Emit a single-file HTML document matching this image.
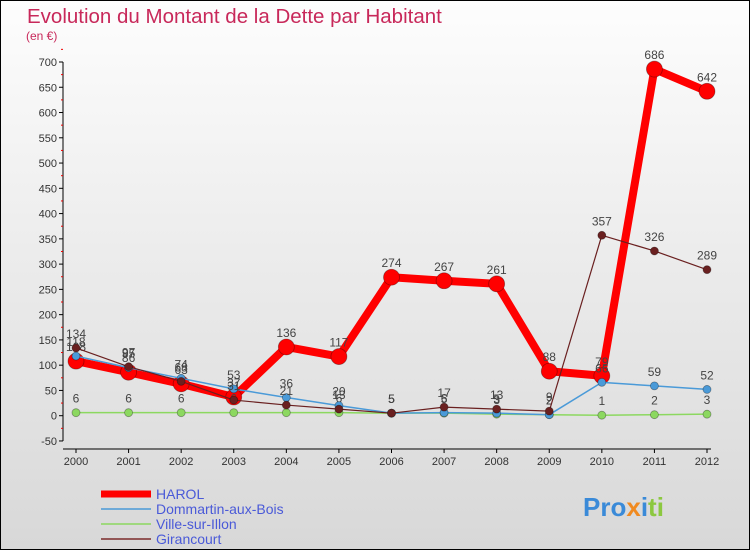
<!DOCTYPE html>
<html><head><meta charset="utf-8"><style>
body{margin:0}
#c{width:750px;height:550px;position:relative;box-sizing:border-box;border:1px solid #000;background:linear-gradient(#fdfdfd,#d8d8d8);font-family:"Liberation Sans",sans-serif;overflow:hidden}
</style></head><body>
<div id="c">
<svg id="s" width="748" height="548" xmlns="http://www.w3.org/2000/svg">
<text x="26" y="22" font-size="20.5" fill="#c8285a">Evolution du Montant de la Dette par Habitant</text>
<text x="25" y="39" font-size="12" fill="#c8285a">(en €)</text>
<g id="axes"></g><g id="series"></g>
<g>
<line x1="100" y1="493" x2="150" y2="493" stroke="#f00" stroke-width="7"/><text x="155" y="498" font-size="14" fill="#4a5ad8">HAROL</text>
<line x1="100" y1="508" x2="150" y2="508" stroke="#4a9ad8" stroke-width="1.5"/><text x="155" y="513" font-size="14" fill="#4a5ad8">Dommartin-aux-Bois</text>
<line x1="100" y1="523" x2="150" y2="523" stroke="#8cd860" stroke-width="1.5"/><text x="155" y="528" font-size="14" fill="#4a5ad8">Ville-sur-Illon</text>
<line x1="100" y1="538" x2="150" y2="538" stroke="#7a2a2a" stroke-width="1.5"/><text x="155" y="543" font-size="14" fill="#4a5ad8">Girancourt</text>
</g>
<text x="582" y="515" font-size="26" font-weight="bold"><tspan fill="#3a8ad8">Pro</tspan><tspan fill="#f08a20">x</tspan><tspan fill="#3a8ad8">i</tspan><tspan fill="#8cc840">ti</tspan></text>
</svg></div>
<script>
const years=[2000,2001,2002,2003,2004,2005,2006,2007,2008,2009,2010,2011,2012];
const harol=[108,86,63,37,136,117,274,267,261,88,79,686,642];
const dommartin=[118,95,74,53,36,20,5,6,5,2,66,59,52];
const ville=[6,6,6,6,6,6,5,5,3,2,1,2,3];
const girancourt=[134,97,68,31,21,13,5,17,13,9,357,326,289];
const yTicks=[-50,0,50,100,150,200,250,300,350,400,450,500,550,600,650,700];
const NS="http://www.w3.org/2000/svg";
const xs=i=>75+i*(631/12);
const ys=v=>414.7-v*0.5053;
function mk(t,a,p){const e=document.createElementNS(NS,t);for(const k in a)e.setAttribute(k,a[k]);p.appendChild(e);return e;}
const ax=document.getElementById('axes');
mk('line',{x1:62,y1:ys(700),x2:62,y2:ys(-50),stroke:'#000'},ax);
yTicks.forEach(v=>{const y=ys(v);
mk('line',{x1:58,y1:y,x2:62,y2:y,stroke:'#000'},ax);
mk('line',{x1:60,y1:ys(v+25),x2:62,y2:ys(v+25),stroke:'#e00'},ax);
const t=mk('text',{x:56,y:y+4,'font-size':11,'text-anchor':'end',fill:'#333'},ax);t.textContent=v;

});
mk('line',{x1:62,y1:448,x2:710,y2:448,stroke:'#000'},ax);
years.forEach((yr,i)=>{const x=xs(i);mk('line',{x1:x,y1:448,x2:x,y2:452,stroke:'#000'},ax);
const t=mk('text',{x:x,y:464,'font-size':11,'text-anchor':'middle',fill:'#333'},ax);t.textContent=yr;

});
const sg=document.getElementById('series');
function draw(name,arr,color,w,r){
const g=mk('g',{},sg);


mk('polyline',{points:arr.map((v,i)=>xs(i)+','+ys(v)).join(' '),fill:'none',stroke:color,'stroke-width':w,'stroke-linejoin':'round'},g);
arr.forEach((v,i)=>{const c=mk('circle',{cx:xs(i),cy:ys(v),r:r,fill:color,stroke:'rgba(0,0,0,0.35)','stroke-width':0.8},g);


const t=mk('text',{x:xs(i),y:ys(v)-10,'font-size':12,'text-anchor':'middle',fill:'#444'},g);t.textContent=v;

});}
draw('harol',harol,'#f00',8,8);
draw('ville',ville,'#8cd860',1.5,4);
draw('dommartin',dommartin,'#4a9ad8',1.5,4);
draw('girancourt',girancourt,'#6a2020',1.2,4);
</script>
</body></html>
